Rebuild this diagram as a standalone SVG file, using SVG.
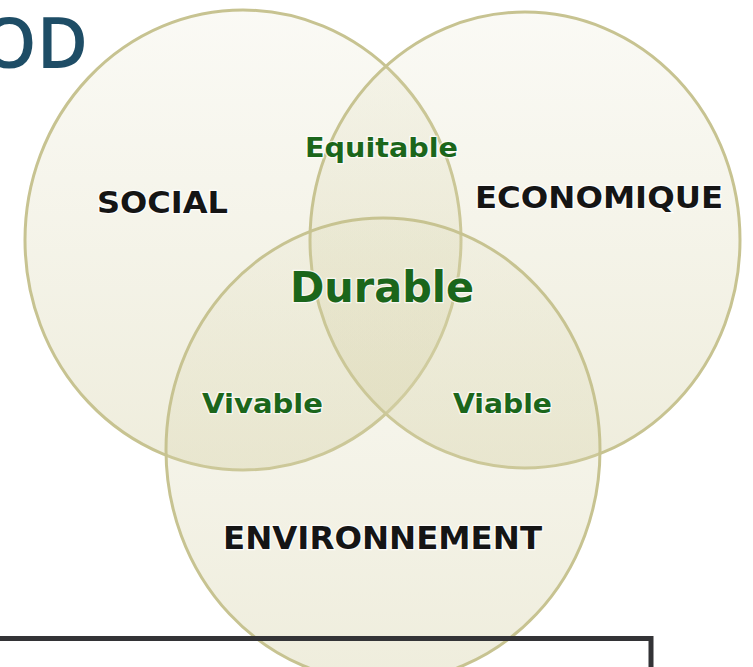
<svg xmlns="http://www.w3.org/2000/svg" width="753" height="667" viewBox="0 0 753 667">
  <defs>
    <linearGradient id="g1" x1="0" y1="0" x2="0" y2="1">
      <stop offset="0" stop-color="#d8d4ac" stop-opacity="0.12"/>
      <stop offset="1" stop-color="#d8d4ac" stop-opacity="0.42"/>
    </linearGradient>
  </defs>
  <style>
    .circ { fill: url(#g1); stroke: #c7c391; stroke-width: 3; }
    .lbl { font-family: "DejaVu Sans", "Liberation Sans", sans-serif; font-weight: bold; fill: #151515; stroke: #ffffff; stroke-width: 2.5; stroke-opacity: 0.85; paint-order: stroke; }
    .zone { font-family: "DejaVu Sans", "Liberation Sans", sans-serif; font-weight: bold; fill: #1b661b; stroke: #ffffff; stroke-width: 2.5; stroke-opacity: 0.7; paint-order: stroke; }
  </style>
  <rect x="0" y="0" width="753" height="667" fill="#ffffff"/>
  <g id="title">
    <text x="88" y="68" text-anchor="end" font-family="'Open Sans', 'Liberation Sans', Arial, sans-serif" font-weight="600" font-size="70" fill="#1e4d66">OD</text>
  </g>
  <g id="social">
    <ellipse class="circ" cx="243" cy="240" rx="218" ry="230"/>
    <text class="lbl" x="97" y="213" font-size="31" textLength="131" lengthAdjust="spacingAndGlyphs">SOCIAL</text>
  </g>
  <g id="economique">
    <ellipse class="circ" cx="525" cy="240" rx="215" ry="228"/>
    <text class="lbl" x="475" y="208" font-size="30" textLength="248" lengthAdjust="spacingAndGlyphs">ECONOMIQUE</text>
  </g>
  <g id="environnement">
    <ellipse class="circ" cx="383" cy="450" rx="217" ry="232"/>
    <text class="lbl" x="223" y="549" font-size="32" textLength="319" lengthAdjust="spacingAndGlyphs">ENVIRONNEMENT</text>
  </g>
  <g id="equitable">
    <text class="zone" x="305" y="157" font-size="26" textLength="153" lengthAdjust="spacingAndGlyphs">Equitable</text>
  </g>
  <g id="durable">
    <text class="zone" x="290" y="302" font-size="42" textLength="184" lengthAdjust="spacingAndGlyphs">Durable</text>
  </g>
  <g id="vivable">
    <text class="zone" x="202" y="413" font-size="27" textLength="121" lengthAdjust="spacingAndGlyphs">Vivable</text>
  </g>
  <g id="viable">
    <text class="zone" x="453" y="413" font-size="27" textLength="99" lengthAdjust="spacingAndGlyphs">Viable</text>
  </g>
  <g id="box">
    <rect x="-10" y="638.5" width="661" height="70" fill="none" stroke="#333336" stroke-width="5"/>
  </g>
</svg>
